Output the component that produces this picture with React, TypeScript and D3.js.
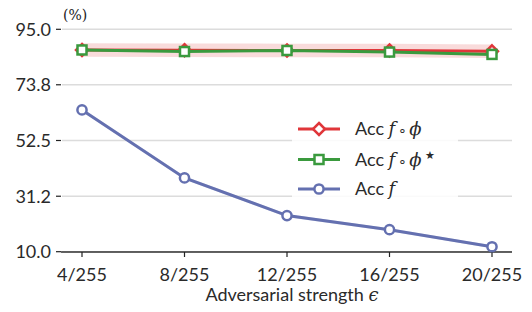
import * as d3 from "d3";

const categories = ["4/255", "8/255", "12/255", "16/255", "20/255"];
const yTicks = [10.0, 31.2, 52.5, 73.8, 95.0];
const accComposed = [87.1, 87.0, 86.9, 86.9, 86.6];
const accComposedStar = [87.1, 86.5, 86.9, 86.3, 85.4];
const accBase = [64.2, 38.2, 23.8, 18.4, 11.9];
const bandComposed = [2.6, 2.6, 2.6, 2.6, 2.6];
const bandBase = [0.6, 0.6, 0.6, 0.6, 0.6];

const RED = "#e0363a";
const GREEN = "#3a9a3e";
const BLUE = "#6470b0";
const FONT = "Lato, 'Open Sans', sans-serif";

const W = 532;
const H = 312;

export default function App() {
  const x = d3.scalePoint<string>().domain(categories).range([82, 492]);
  const y = d3.scaleLinear().domain([10, 95]).range([251.7, 29.3]);

  const line = d3
    .line<number>()
    .x((_, i) => x(categories[i]) as number)
    .y((d) => y(d));

  const band = (vals: number[], err: number[]) =>
    d3
      .area<number>()
      .x((_, i) => x(categories[i]) as number)
      .y0((d, i) => y(d - err[i]))
      .y1((d, i) => y(d + err[i]))(vals) as string;

  const diamond = (cx: number, cy: number, r = 6) =>
    `M${cx},${cy - r}L${cx + r},${cy}L${cx},${cy + r}L${cx - r},${cy}Z`;

  const marker = (kind: string, cx: number, cy: number, color: string, key: string | number) => {
    if (kind === "diamond")
      return <path key={key} d={diamond(cx, cy)} fill="white" stroke={color} strokeWidth={2.5} />;
    if (kind === "square")
      return <rect key={key} x={cx - 4.5} y={cy - 4.5} width={9} height={9} fill="white" stroke={color} strokeWidth={2.5} />;
    return <circle key={key} cx={cx} cy={cy} r={4.6} fill="white" stroke={color} strokeWidth={2.5} />;
  };

  const series = [
    { vals: accComposed, color: RED, kind: "diamond" },
    { vals: accComposedStar, color: GREEN, kind: "square" },
    { vals: accBase, color: BLUE, kind: "circle" },
  ];

  const legendRows = [
    { color: RED, kind: "diamond", y: 129, star: false, phi: true },
    { color: GREEN, kind: "square", y: 159.5, star: true, phi: true },
    { color: BLUE, kind: "circle", y: 189, star: false, phi: false },
  ];

  return (
    <svg width={W} height={H} style={{ position: "absolute", left: 0, top: 0 }} fontFamily={FONT}>
      <rect width={W} height={H} fill="white" />
      {/* grid */}
      {yTicks.map((t) => (
        <g key={t}>
          <line x1={62} x2={512} y1={y(t)} y2={y(t)} stroke="#dcdcdc" strokeWidth={1.5} />
          <line x1={56} x2={61} y1={y(t)} y2={y(t)} stroke="#222" strokeWidth={1.2} />
          <text x={51} y={y(t)} dy="0.36em" textAnchor="end" fontSize={18} fill="#2a2a2a">
            {t.toFixed(1)}
          </text>
        </g>
      ))}
      <text x={63} y={20} fontSize={14} fill="#222" fontFamily="'DejaVu Serif', serif">(%)</text>
      {/* x axis */}
      <line x1={61} x2={512} y1={252} y2={252} stroke="#333" strokeWidth={1.5} />
      {categories.map((c) => (
        <g key={c}>
          <line x1={x(c)} x2={x(c)} y1={252} y2={257} stroke="#222" strokeWidth={1.2} />
          <text x={x(c)} y={281} textAnchor="middle" fontSize={18} fill="#2a2a2a">{c}</text>
        </g>
      ))}
      <text x={292} y={301} textAnchor="middle" fontSize={18} fill="#2a2a2a">
        Adversarial strength <tspan fontStyle="italic" fontFamily="'DejaVu Serif', serif">ϵ</tspan>
      </text>
      {/* bands */}
      <path d={band(accComposed, bandComposed)} fill={RED} opacity={0.18} />
      <path d={band(accBase, bandBase)} fill={BLUE} opacity={0.2} />
      {/* lines */}
      {series.map((s) => (
        <g key={s.color}>
          <path d={line(s.vals) as string} fill="none" stroke={s.color} strokeWidth={3} />
          {s.vals.map((v, i) => marker(s.kind, x(categories[i]) as number, y(v), s.color, i))}
        </g>
      ))}
      {/* legend */}
      <rect x={292} y={113} width={166} height={88} fill="white" opacity={0.85} />
      {legendRows.map((r) => (
        <g key={r.color}>
          <line x1={298} x2={340} y1={r.y} y2={r.y} stroke={r.color} strokeWidth={3} />
          {marker(r.kind, 319, r.y, r.color, "m")}
          <text x={355} y={r.y} dy="0.36em" fontSize={18} fill="#2a2a2a">
            Acc{" "}
            <tspan fontStyle="italic" fontFamily="'DejaVu Serif', serif">f</tspan>
            {r.phi && (
              <>
                <tspan fontSize={14} dx={3}>∘</tspan>
                <tspan fontStyle="italic" fontFamily="'DejaVu Serif', serif" dx={2}>ϕ</tspan>
              </>
            )}
            {r.star && <tspan fontSize={11} dx={3} dy={-7}>★</tspan>}
          </text>
        </g>
      ))}
    </svg>
  );
}
